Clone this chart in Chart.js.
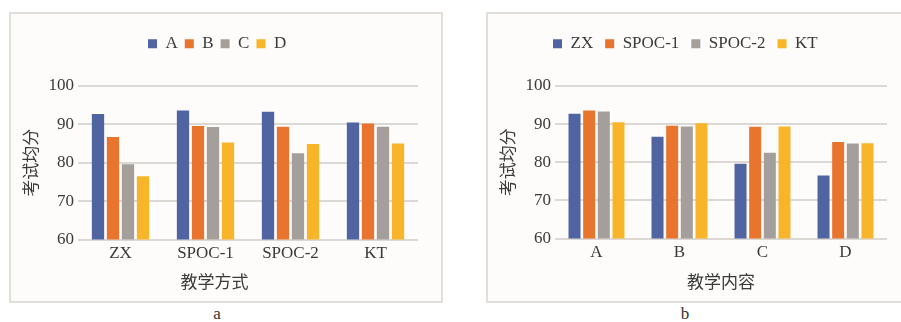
<!DOCTYPE html>
<html>
<head>
<meta charset="utf-8">
<script src="https://cdn.jsdelivr.net/npm/chart.js@4"></script>
<style>
  html, body { margin: 0; padding: 0; background: #ffffff; width: 901px; height: 322px; overflow: hidden; }
  .panel { position: absolute; top: 12px; height: 287px; border: 2px solid #e2deda; background: #fdfcfb; }
  .panel canvas { display: block; }
  #panelA { left: 9px; width: 430px; }
  #panelB { left: 486px; width: 426px; }
  .cap { position: absolute; top: 304px; width: 40px; text-align: center;
         font: 17px "Liberation Serif", serif; color: #333333; }
</style>
</head>
<body>
<div class="panel" id="panelA"><canvas id="chartA" width="430" height="287"></canvas></div>
<div class="panel" id="panelB"><canvas id="chartB" width="426" height="287"></canvas></div>
<div class="cap" style="left:197px">a</div>
<div class="cap" style="left:665px">b</div>
<script>
// Teaching methods and teaching-content modules
const methods = ['ZX', 'SPOC-1', 'SPOC-2', 'KT'];
const contents = ['A', 'B', 'C', 'D'];

// Average exam score for each content module, listed per teaching method (ZX, SPOC-1, SPOC-2, KT)
const scoreA = [92.7, 93.6, 93.3, 90.5];
const scoreB = [86.7, 89.6, 89.4, 90.2];
const scoreC = [79.6, 89.3, 82.5, 89.4];
const scoreD = [76.5, 85.3, 84.9, 85.0];

const yTicks = [60, 70, 80, 90, 100];

const palette = ['#5064a2', '#e8742e', '#a59f9b', '#f9b52a'];
const inkColor = '#3a3a3a';
const gridColor = '#dcd8d4';

Chart.defaults.font.family = '"Liberation Serif", "Noto Sans CJK SC", serif';
Chart.defaults.font.size = 17;
Chart.defaults.color = inkColor;

const byContent = [scoreA, scoreB, scoreC, scoreD];
// Same numbers regrouped per teaching method
const byMethod = methods.map((m, i) => byContent.map(row => row[i]));

// Places the legend row at a fixed spot and reserves a fixed band above the plot
function legendPlacer(x, y, bandHeight) {
  return {
    id: 'legendPlacer',
    beforeLayout(chart) {
      const lg = chart.legend;
      if (lg && !lg._banded) {
        const fit = lg.fit;
        lg.fit = function () { fit.call(this); this.height = bandHeight; };
        lg._banded = true;
      }
    },
    afterLayout(chart) {
      const lg = chart.legend;
      const pad = lg.options.labels.padding;
      const itemH = Math.max(lg.options.labels.font.size || 17, 9);
      lg.left = x - pad;
      lg.top = y - pad - itemH / 2;
    }
  };
}

function makeDatasets(labels, rows) {
  return labels.map((name, i) => ({
    label: name,
    data: rows[i],
    backgroundColor: palette[i],
    borderWidth: 0,
    categoryPercentage: 0.706,
    barPercentage: 0.82
  }));
}

function yScale() {
  return {
    min: 60, max: 100,
    afterBuildTicks(s) { s.ticks = yTicks.map(v => ({ value: v })); },
    afterFit(s) { s.width = 67; },
    grid: { color: gridColor, lineWidth: 2, drawTicks: false },
    border: { display: false },
    ticks: { padding: 4, color: inkColor, font: { size: 17 } },
    title: { display: true, text: '考试均分', color: inkColor, font: { size: 17 }, padding: { top: 11 } }
  };
}

// Chart a: grouped by teaching method, one bar per content module
new Chart(document.getElementById('chartA'), {
  type: 'bar',
  data: { labels: methods, datasets: makeDatasets(contents, byContent) },
  options: {
    responsive: false,
    animation: false,
    layout: { padding: { left: 0, right: 23, top: 0, bottom: 0 } },
    plugins: {
      legend: {
        position: 'top', align: 'start',
        labels: { boxWidth: 9, boxHeight: 9, padding: 7, color: inkColor, font: { size: 17 } }
      },
      title: {
        display: true, position: 'bottom', text: '教学方式', color: inkColor,
        font: { size: 17, weight: 'normal' }, padding: { top: 0, bottom: 7 }
      },
      tooltip: { enabled: false }
    },
    scales: {
      x: {
        grid: { display: false, drawTicks: false }, border: { display: false },
        ticks: { padding: 4, color: inkColor, font: { size: 17 } },
        afterFit(s) { s.height = 34.1; }
      },
      y: yScale()
    }
  },
  plugins: [legendPlacer(137, 29.8, 72)]
});

// Chart b: grouped by content module, one bar per teaching method
new Chart(document.getElementById('chartB'), {
  type: 'bar',
  data: { labels: contents, datasets: makeDatasets(methods, byMethod) },
  options: {
    responsive: false,
    animation: false,
    layout: { padding: { left: 0, right: 27, top: 0, bottom: 0 } },
    plugins: {
      legend: {
        position: 'top', align: 'start',
        labels: { boxWidth: 9, boxHeight: 9, padding: 12, color: inkColor, font: { size: 17 } }
      },
      tooltip: { enabled: false }
    },
    scales: {
      x: {
        grid: { display: false, drawTicks: false }, border: { display: false },
        ticks: { padding: 4, color: inkColor, font: { size: 17 } },
        title: { display: true, text: '教学内容', color: inkColor, font: { size: 17 }, padding: { top: 0, bottom: 7 } },
        afterFit(s) { s.height = 62.5; }
      },
      y: yScale()
    }
  },
  plugins: [legendPlacer(65, 29.8, 72)]
});
</script>
</body>
</html>
